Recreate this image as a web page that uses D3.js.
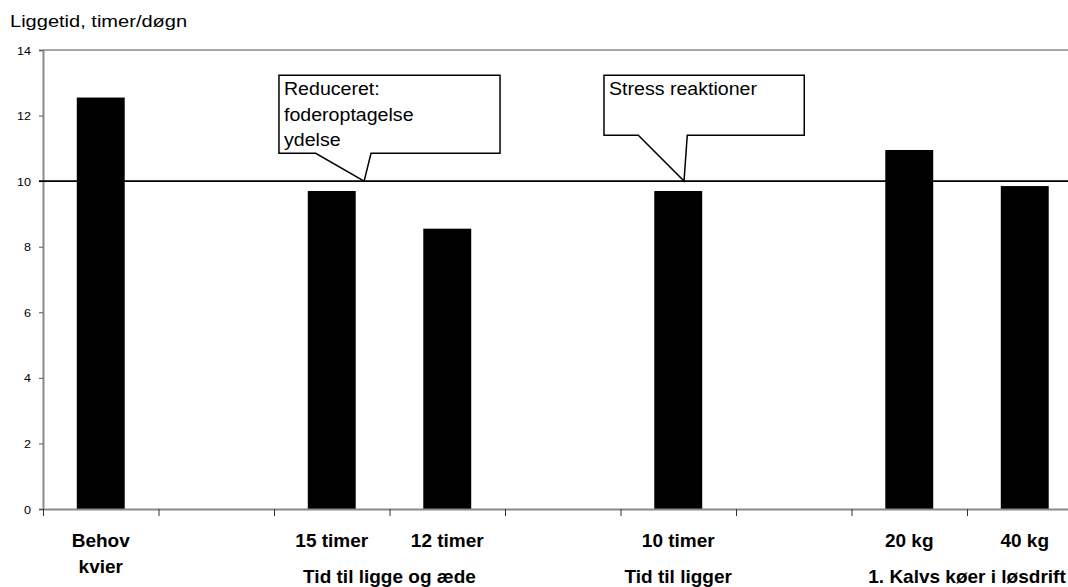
<!DOCTYPE html>
<html>
<head>
<meta charset="utf-8">
<script src="https://cdn.jsdelivr.net/npm/d3@7"></script>
<style>
  html, body { margin: 0; padding: 0; background: #fff; overflow: hidden; }
  svg { display: block; font-family: "Liberation Sans", Arial, sans-serif; }
</style>
</head>
<body>
<svg id="chart" width="1068" height="587"></svg>
<script>
// ---- data ----
const categories = ["Behov|kvier", "", "15 timer", "12 timer", "", "10 timer", "", "20 kg", "40 kg"];
const values = [12.55, null, 9.7, 8.55, null, 9.7, null, 10.95, 9.85];
const groupLabels = ["Tid til ligge og æde", "Tid til ligger", "1. Kalvs køer i løsdrift"];
const groupFrom = [2, 5, 7];
const groupTo = [3, 5, 8];
const yTicks = [0, 2, 4, 6, 8, 10, 12, 14];
const referenceValue = 10;
const yTitle = "Liggetid, timer/døgn";
// callouts: text lines, box in slot units / value units, pointer base & tip
const calloutLines = [["Reduceret:", "foderoptagelse", "ydelse"], ["Stress reaktioner"]];
const calloutBoxX = [[2.043, 3.957], [4.857, 6.591]];
const calloutBoxY = [[13.23, 10.85], [13.23, 11.40]];
const calloutBase = [[2.361, 2.84], [5.154, 5.578]];
const calloutTip = [[2.78, 10], [5.55, 10]];

// ---- layout ----
const svg = d3.select("#chart");
const plotLeft = 43, plotTop = 50, plotBottom = 509;
const step = 115.5;
const nSlots = categories.length;
const plotRight = plotLeft + step * nSlots;

const slot = d3.scaleLinear().domain([0, nSlots]).range([plotLeft, plotRight]);
const x = d3.scaleBand().domain(d3.range(nSlots)).range([plotLeft, plotRight])
  .paddingInner(0.585).paddingOuter(0.2925);
const y = d3.scaleLinear().domain([0, 14]).range([plotBottom, plotTop]);

// top border of plot area
svg.append("line")
  .attr("x1", plotLeft).attr("x2", plotRight).attr("y1", y(14)).attr("y2", y(14))
  .attr("stroke", "#8a8a8a").attr("stroke-width", 1.5);

// bars
svg.append("g").selectAll("rect")
  .data(values.map((v, i) => ({ v, i })).filter(d => d.v != null))
  .join("rect")
  .attr("x", d => x(d.i))
  .attr("width", x.bandwidth())
  .attr("y", d => y(d.v))
  .attr("height", d => y(0) - y(d.v))
  .attr("fill", "#000");

// y axis
const yAxis = svg.append("g").attr("transform", `translate(${plotLeft},0)`)
  .call(d3.axisLeft(y).tickValues(yTicks).tickSize(4).tickFormat(d3.format("d")));
yAxis.select(".domain").attr("stroke", "#8a8a8a").attr("stroke-width", 2);
yAxis.selectAll(".tick line").attr("stroke", "#555");
yAxis.selectAll(".tick text").remove();
yAxis.selectAll(".tick").append("text")
  .attr("transform", "translate(-12,4) scale(1.14,1)")
  .attr("text-anchor", "end")
  .attr("fill", "#000")
  .style("font-size", "11px")
  .text(d => d);

// x axis
const xAxis = svg.append("g").attr("transform", `translate(0,${plotBottom})`)
  .call(d3.axisBottom(slot).tickValues(d3.range(nSlots + 1)).tickSize(7).tickSizeOuter(0).tickFormat(""));
xAxis.select(".domain").attr("stroke", "#8a8a8a").attr("stroke-width", 2);
xAxis.selectAll(".tick line").attr("stroke", "#333");

// reference line
svg.append("line")
  .attr("x1", plotLeft - 4).attr("x2", plotRight)
  .attr("y1", y(referenceValue)).attr("y2", y(referenceValue))
  .attr("stroke", "#000").attr("stroke-width", 1.6);

// category labels
categories.forEach((c, i) => {
  if (!c) return;
  const lines = c.split("|");
  const t = svg.append("text")
    .attr("x", x(i) + x.bandwidth() / 2)
    .attr("y", 546.5)
    .attr("text-anchor", "middle")
    .style("font-size", "19px").style("font-weight", "bold");
  lines.forEach((l, k) => {
    t.append("tspan").attr("x", x(i) + x.bandwidth() / 2).attr("dy", k === 0 ? 0 : 26).text(l);
  });
});

// group labels
groupLabels.forEach((g, k) => {
  const cx = (x(groupFrom[k]) + x(groupTo[k]) + x.bandwidth()) / 2;
  svg.append("text")
    .attr("x", cx).attr("y", 582.5)
    .attr("text-anchor", "middle")
    .style("font-size", "19px").style("font-weight", "bold")
    .text(g);
});

// callouts
calloutLines.forEach((lines, k) => {
  const x0 = slot(calloutBoxX[k][0]), x1 = slot(calloutBoxX[k][1]);
  const y0 = y(calloutBoxY[k][0]), y1 = y(calloutBoxY[k][1]);
  const b0 = slot(calloutBase[k][0]), b1 = slot(calloutBase[k][1]);
  const tx = slot(calloutTip[k][0]), ty = y(calloutTip[k][1]);
  const path = d3.path();
  path.moveTo(x0, y0);
  path.lineTo(x1, y0);
  path.lineTo(x1, y1);
  path.lineTo(b1, y1);
  path.lineTo(tx, ty);
  path.lineTo(b0, y1);
  path.lineTo(x0, y1);
  path.closePath();
  svg.append("path").attr("d", path.toString())
    .attr("fill", "#fff").attr("stroke", "#000").attr("stroke-width", 1.5)
    .attr("stroke-linejoin", "miter");
  lines.forEach((l, j) => {
    svg.append("text")
      .attr("transform", `translate(${x0 + 5},${y0 + 20 + j * 25.5}) scale(1.12,1)`)
      .style("font-size", "17.5px")
      .attr("fill", "#000")
      .text(l);
  });
});

// y title
svg.append("text")
  .attr("transform", "translate(10,27.3) scale(1.18,1)")
  .style("font-size", "17px")
  .attr("fill", "#000")
  .text(yTitle);
</script>
</body>
</html>
